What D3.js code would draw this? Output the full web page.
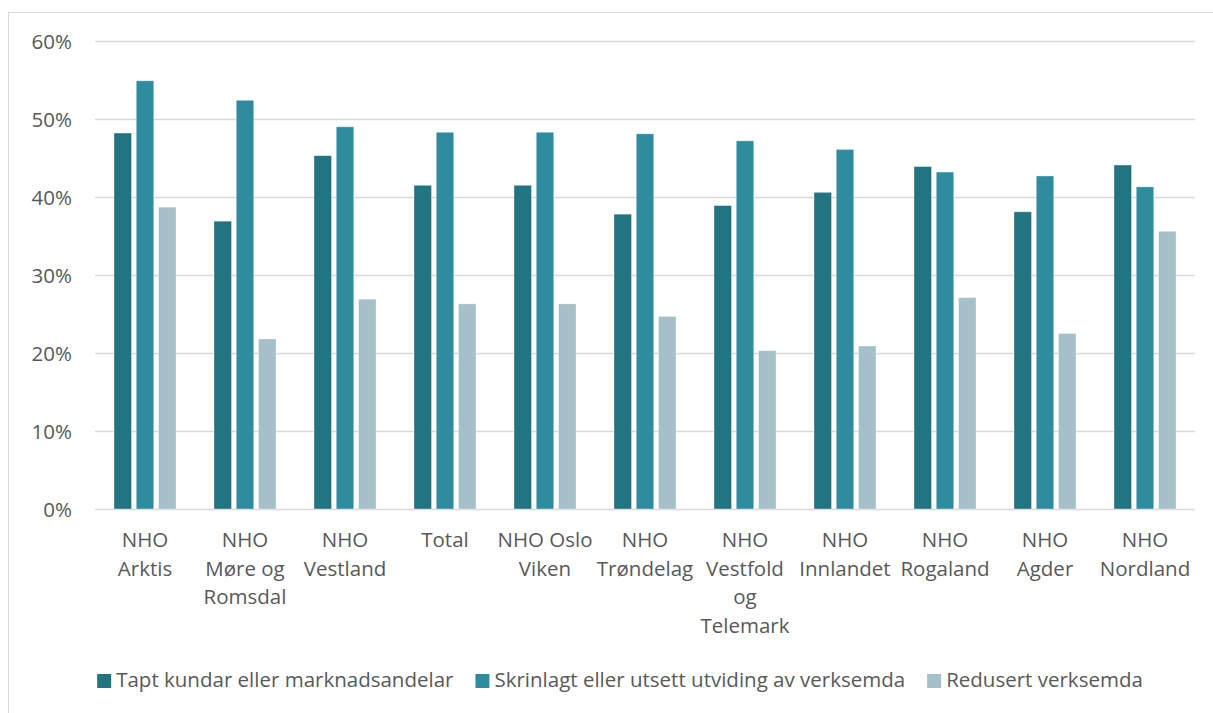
<!DOCTYPE html>
<html>
<head>
<meta charset="utf-8">
<script src="https://cdn.jsdelivr.net/npm/d3@7"></script>
<style>
  body { margin: 0; background: #fff; }
  text { font-family: "Open Sans", "Noto Sans", sans-serif; fill: #595959; }
</style>
</head>
<body>
<svg id="chart" width="1213" height="713"></svg>
<script>
// data
var categories = ["NHO Arktis", "NHO Møre og Romsdal", "NHO Vestland", "Total", "NHO Oslo Viken",
  "NHO Trøndelag", "NHO Vestfold og Telemark", "NHO Innlandet", "NHO Rogaland", "NHO Agder", "NHO Nordland"];
// how the category labels wrap under the axis
var tickLabels = [["NHO", "Arktis"], ["NHO", "Møre og", "Romsdal"], ["NHO", "Vestland"], ["Total"],
  ["NHO Oslo", "Viken"], ["NHO", "Trøndelag"], ["NHO", "Vestfold", "og", "Telemark"], ["NHO", "Innlandet"],
  ["NHO", "Rogaland"], ["NHO", "Agder"], ["NHO", "Nordland"]];
var seriesNames = ["Tapt kundar eller marknadsandelar", "Skrinlagt eller utsett utviding av verksemda", "Redusert verksemda"];
var taptKundar   = [0.482, 0.369, 0.453, 0.415, 0.415, 0.378, 0.389, 0.406, 0.439, 0.381, 0.441];
var skrinlagt    = [0.549, 0.524, 0.490, 0.483, 0.483, 0.481, 0.472, 0.461, 0.432, 0.427, 0.413];
var redusert     = [0.387, 0.218, 0.269, 0.263, 0.263, 0.247, 0.203, 0.209, 0.271, 0.225, 0.356];
var yTicks = [0, 0.1, 0.2, 0.3, 0.4, 0.5, 0.6];

var colors = ["#227480", "#2e8c9e", "#a5c0c8"];
var series = [taptKundar, skrinlagt, redusert];
var fontSize = 20.5;

var svg = d3.select("#chart");

// outer chart frame (runs off the right and bottom edges)
svg.append("rect")
    .attr("x", 8.5).attr("y", 12.5)
    .attr("width", 1240).attr("height", 740)
    .attr("fill", "none")
    .attr("stroke", "#d9d9d9");

var x = d3.scaleBand()
    .domain(categories)
    .range([95, 1195])
    .paddingInner(0.38)
    .paddingOuter(0.19);

var xs = d3.scaleBand()
    .domain(d3.range(series.length))
    .range([0, x.bandwidth()])
    .paddingInner(0.213);

var y = d3.scaleLinear()
    .domain([0, 0.6])
    .range([509, 41]);

// gridlines + y labels
var yAxis = d3.axisLeft(y)
    .tickValues(yTicks)
    .tickFormat(d3.format(".0%"))
    .tickSize(-1100)
    .tickPadding(23);

var gy = svg.append("g")
    .attr("transform", "translate(95,0)")
    .call(yAxis);
gy.select(".domain").remove();
gy.selectAll(".tick line").attr("stroke", "#d9d9d9").attr("stroke-width", 1.3);
gy.selectAll(".tick text")
    .attr("font-size", fontSize)
    .attr("dy", 7)
    .style("font-family", "'Open Sans', sans-serif")
    .attr("fill", "#595959");

// bars
var groups = svg.append("g")
  .selectAll("g")
  .data(categories)
  .enter().append("g")
    .attr("transform", function(d) { return "translate(" + x(d) + ",0)"; });

groups.selectAll("rect")
    .data(function(d, i) { return series.map(function(s, k) { return {k: k, v: s[i]}; }); })
  .enter().append("rect")
    .attr("x", function(d) { return xs(d.k); })
    .attr("width", xs.bandwidth())
    .attr("y", function(d) { return y(d.v); })
    .attr("height", function(d) { return y(0) - y(d.v); })
    .attr("fill", function(d) { return colors[d.k]; })
    .attr("stroke", "#ffffff")
    .attr("stroke-opacity", 0.45)
    .attr("stroke-width", 0.8);

// category labels
var labels = svg.append("g")
  .selectAll("text")
  .data(categories)
  .enter().append("text")
    .attr("text-anchor", "middle")
    .attr("font-size", fontSize)
    .attr("x", function(d) { return x(d) + x.bandwidth() / 2; })
    .attr("y", 547);

labels.selectAll("tspan")
    .data(function(d, i) { return tickLabels[i]; })
  .enter().append("tspan")
    .attr("x", function() { return d3.select(this.parentNode).attr("x"); })
    .attr("dy", function(d, i) { return i === 0 ? 0 : 28.7; })
    .text(function(d) { return d; });

// legend, laid out from measured text widths and centred
var legend = svg.append("g");
var items = legend.selectAll("g")
  .data(seriesNames)
  .enter().append("g");

items.append("rect")
    .attr("y", 674)
    .attr("width", 14).attr("height", 14)
    .attr("fill", function(d, i) { return colors[i]; });

items.append("text")
    .attr("x", 19)
    .attr("y", 687)
    .attr("font-size", fontSize)
    .text(function(d) { return d; });

var cursor = 0;
items.each(function() {
  var g = d3.select(this);
  g.attr("transform", "translate(" + cursor + ",0)");
  cursor += 19 + g.select("text").node().getComputedTextLength() + 22;
});
var total = cursor - 22;
legend.attr("transform", "translate(" + (620 - total / 2) + ",0)");
</script>
</body>
</html>
